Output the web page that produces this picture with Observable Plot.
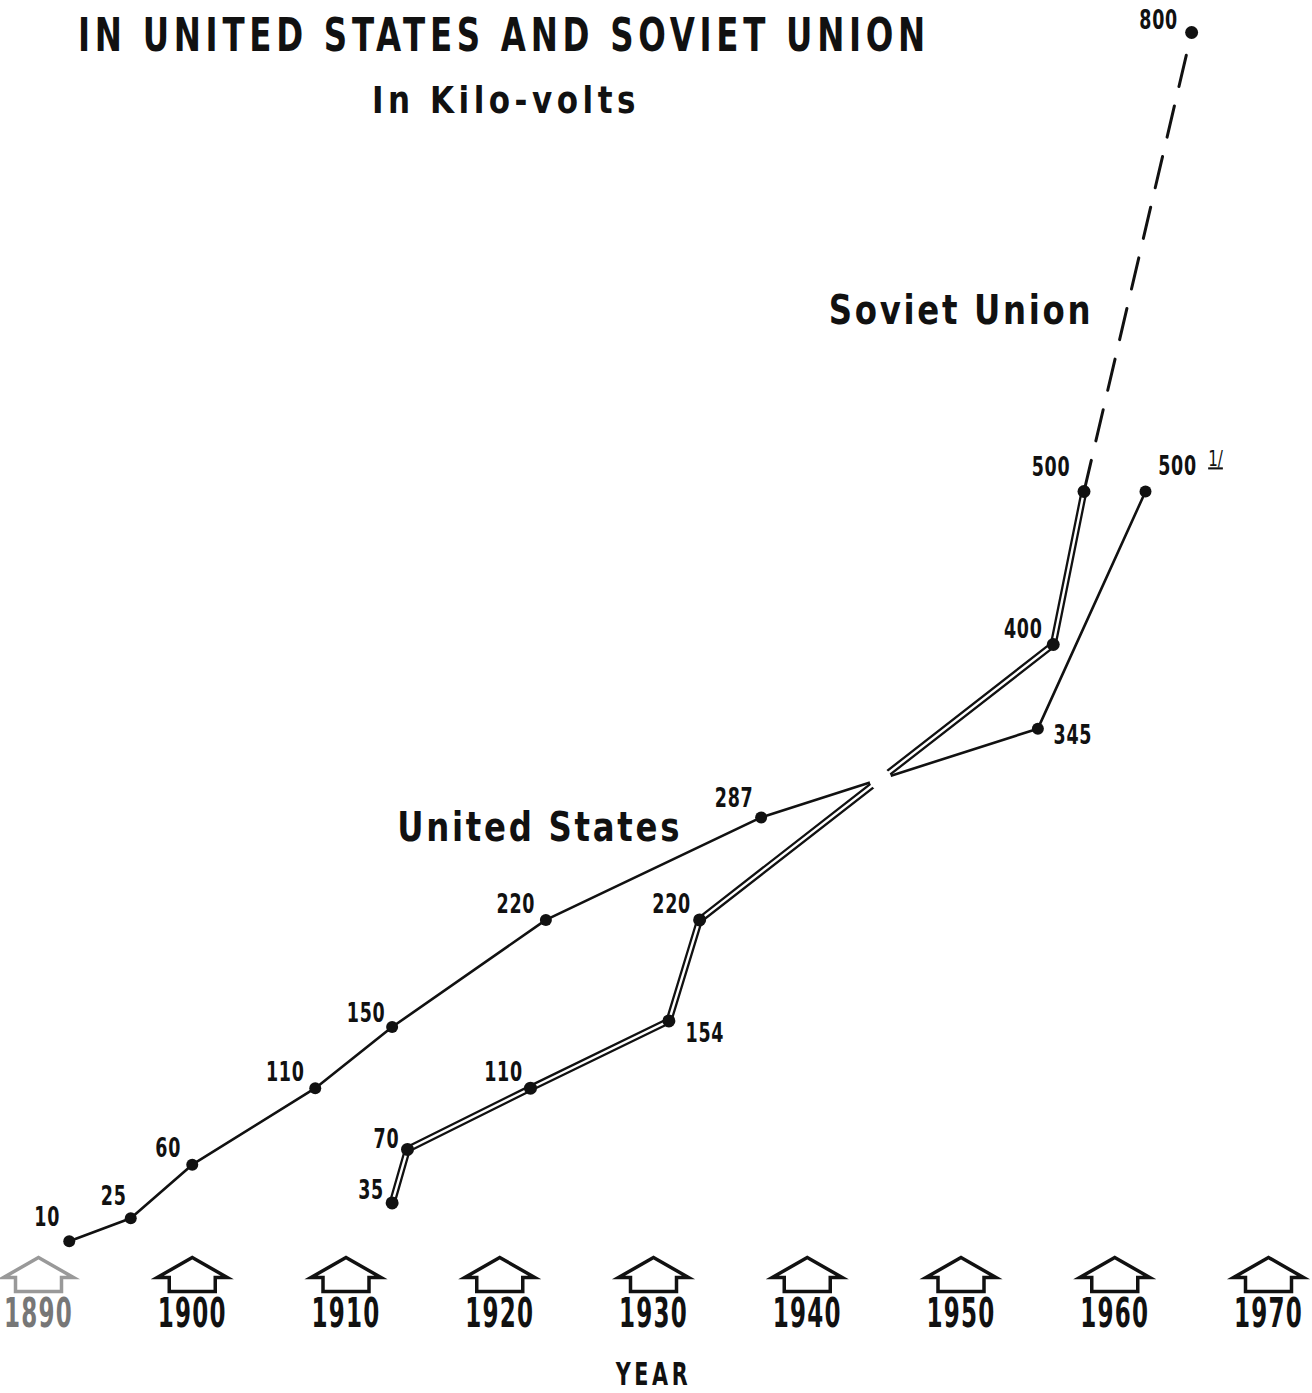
<!DOCTYPE html>
<html>
<head>
<meta charset="utf-8">
<script src="https://cdn.jsdelivr.net/npm/d3@7"></script>
<script src="https://cdn.jsdelivr.net/npm/@observablehq/plot@0.6"></script>
<style>
  html, body { margin: 0; padding: 0; background: #fff; }
  #wrap { position: relative; width: 1312px; height: 1393px; }
  #title { position: absolute; left: 78px; top: 8px; font-family: "DejaVu Sans Condensed", "DejaVu Sans", sans-serif; font-weight: bold; font-size: 46px; letter-spacing: 6px; color: #111; white-space: nowrap; transform-origin: 0 0; }
  #subtitle { position: absolute; left: 372px; top: 78px; font-family: "DejaVu Sans Condensed", "DejaVu Sans", sans-serif; font-weight: bold; font-size: 38px; letter-spacing: 5px; color: #111; white-space: nowrap; transform-origin: 0 0; }
  #chart { position: absolute; left: 0; top: 0; }
</style>
</head>
<body>
<div id="wrap">
  <div id="chart"></div>
  <div id="title">IN UNITED STATES AND SOVIET UNION</div>
  <div id="subtitle">In Kilo-volts</div>
</div>
<script>
// ---- data ----
const years = [1890, 1900, 1910, 1920, 1930, 1940, 1950, 1960, 1970];
const usYear = [1892, 1896, 1900, 1908, 1913, 1923, 1937, 1955, 1962];
const usKv   = [10, 25, 60, 110, 150, 220, 287, 345, 500];
const suYear = [1913, 1914, 1922, 1931, 1933, 1956, 1958, 1965];
const suKv   = [35, 70, 110, 154, 220, 400, 500, 800];
const seriesNames = ["United States", "Soviet Union"];
const seriesLabelYear = [1922.6, 1950];
const seriesLabelKv = [280, 618];

// ---- derived tables ----
const us = usYear.map((x, i) => ({x, y: usKv[i]}));
const su = suYear.map((x, i) => ({x, y: suKv[i]}));
const suSolid = su.slice(0, 7);
const suDash = su.slice(6);

// crossing of US 287->345 with Soviet 220->400 (faded gap in the original)
function intersect(a, b, c, d) {
  const den = (a.x - b.x) * (c.y - d.y) - (a.y - b.y) * (c.x - d.x);
  const t = ((a.x - c.x) * (c.y - d.y) - (a.y - c.y) * (c.x - d.x)) / den;
  return {x: a.x + t * (b.x - a.x), y: a.y + t * (b.y - a.y)};
}
const cross = intersect(us[6], us[7], su[4], su[5]);

// label offsets (px) for each point label
const usOff = [[-22,-24],[-17,-22],[-24,-16],[-30,-16],[-26,-14],[-30,-16],[-27,-19],[35,7],[32,-25]];
const suOff = [[-21,-13],[-21,-10],[-27,-16],[36,12],[-28,-16],[-30,-15],[-33,-24],[-33,-12]];

const numFont = "'DejaVu Sans Condensed', 'DejaVu Sans', sans-serif";
const headFont = "'DejaVu Sans Condensed', 'DejaVu Sans', sans-serif";

// arrow (house-shaped) symbol, drawn in pixels (r = 1)
const arrow = {
  draw(ctx, size) {
    const s = Math.sqrt(size / Math.PI);
    ctx.moveTo(0, -20 * s);
    ctx.lineTo(35 * s, 0);
    ctx.lineTo(23 * s, 0);
    ctx.lineTo(23 * s, 14 * s);
    ctx.lineTo(-23 * s, 14 * s);
    ctx.lineTo(-23 * s, 0);
    ctx.lineTo(-35 * s, 0);
    ctx.closePath();
  }
};

const labelMarks = [];
us.forEach((d, i) => labelMarks.push(Plot.text([d], {x: "x", y: "y", text: d => String(d.y), dx: usOff[i][0], dy: usOff[i][1], fontFamily: numFont, fontWeight: "bold", fontSize: 27, fill: "#111"})));
su.forEach((d, i) => labelMarks.push(Plot.text([d], {x: "x", y: "y", text: d => String(d.y), dx: suOff[i][0], dy: suOff[i][1], fontFamily: numFont, fontWeight: "bold", fontSize: 27, fill: "#111"})));

const plot = Plot.plot({
  width: 1312,
  height: 1393,
  marginLeft: 38,
  marginRight: 44,
  marginTop: 32,
  marginBottom: 137,
  x: {domain: [1890, 1970], axis: null},
  y: {domain: [0, 800], axis: null},
  style: {background: "white", overflow: "visible"},
  marks: [
    // US line
    Plot.line(us, {x: "x", y: "y", stroke: "#111", strokeWidth: 2.6}),
    // Soviet double line
    Plot.line(suSolid, {x: "x", y: "y", stroke: "#111", strokeWidth: 7}),
    Plot.line(suSolid, {x: "x", y: "y", stroke: "white", strokeWidth: 2.4}),
    Plot.line(suDash, {x: "x", y: "y", stroke: "#111", strokeWidth: 3, strokeDasharray: "32,20"}),
    // faded crossing
    Plot.dot([cross], {x: "x", y: "y", r: 11, fill: "white"}),
    // points
    Plot.dot(us, {x: "x", y: "y", r: 6, fill: "#111"}),
    Plot.dot(su, {x: "x", y: "y", r: 6.5, fill: "#111"}),
    ...labelMarks,
    // footnote marker on US 500
    Plot.text([us[8]], {x: "x", y: "y", text: () => "1/", dx: 70, dy: -32, fontFamily: numFont, fontSize: 21, fill: "#111"}),
    // series labels
    Plot.text(seriesNames, {x: (d, i) => seriesLabelYear[i], y: (d, i) => seriesLabelKv[i], text: d => d, fontFamily: headFont, fontWeight: "bold", fontSize: 40, fill: "#111"}),
    // x axis: arrows and year labels
    Plot.dot(years, {x: d => d, frameAnchor: "bottom", dy: 21, symbol: arrow, r: 1, fill: "white", stroke: d => d === 1890 ? "#999" : "#111", strokeWidth: 3.5}),
    Plot.text(years, {x: d => d, frameAnchor: "bottom", dy: 70, text: d => String(d), fontFamily: numFont, fontWeight: "bold", fontSize: 40, fill: d => d === 1890 ? "#777" : "#111"}),
    Plot.text(["YEAR"], {frameAnchor: "bottom", dy: 128, text: d => d, fontFamily: numFont, fontWeight: "bold", fontSize: 32, fill: "#111"})
  ]
});

// condense texts horizontally (the original uses a narrow face)
function condense(el, sx) {
  const x = +el.getAttribute("x") || 0, y = +el.getAttribute("y") || 0;
  const tr = el.getAttribute("transform") || "";
  el.setAttribute("transform", `${tr} translate(${x},${y}) scale(${sx},1) translate(${-x},${-y})`);
}
d3.select(plot).selectAll("text").each(function() {
  const t = this.textContent;
  if (t === "United States" || t === "Soviet Union") { this.setAttribute("letter-spacing", "3"); condense(this, 0.9); }
  else if (t === "YEAR") { this.setAttribute("letter-spacing", "5"); condense(this, 0.72); }
  else if (/^\d{4}$/.test(t)) { this.setAttribute("letter-spacing", "2"); condense(this, 0.64); }
  else if (t === "1/") { this.setAttribute("text-decoration", "underline"); condense(this, 0.8); }
  else { this.setAttribute("letter-spacing", "1"); condense(this, 0.72); }
});

document.getElementById("chart").appendChild(plot);

// fit the title to the original's width
const title = document.getElementById("title");
title.style.transform = `scaleX(${852 / title.getBoundingClientRect().width})`;
const sub = document.getElementById("subtitle");
sub.style.transform = `scaleX(${268 / sub.getBoundingClientRect().width})`;
</script>
</body>
</html>
